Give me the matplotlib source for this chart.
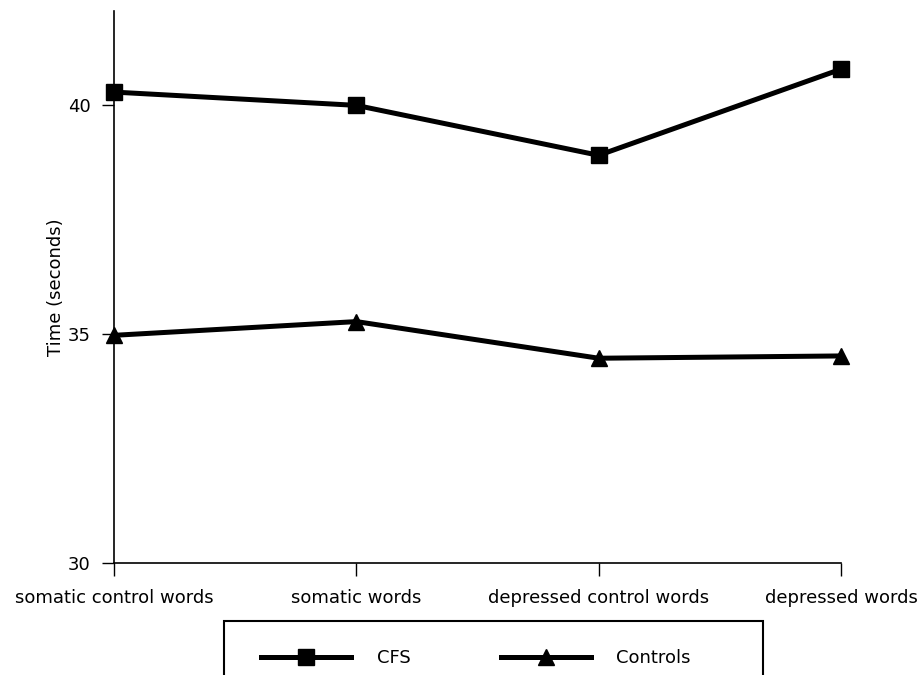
import matplotlib
matplotlib.use('Agg')
import matplotlib.pyplot as plt
from matplotlib.patches import Rectangle

plt.rcParams['font.family'] = ['DejaVu Sans']

categories = ['somatic control words', 'somatic words', 'depressed control words', 'depressed words']
cfs = [40.28, 39.99, 38.9, 40.78]
controls = [34.97, 35.27, 34.47, 34.52]
yticks = [30, 35, 40]

fig = plt.figure(figsize=(9.21, 6.75), dpi=100)
ax = fig.add_axes([114/921, 1 - 563/675, (841 - 114)/921, (563 - 11)/675])

x = range(len(categories))
ax.plot(x, cfs, color='black', lw=3.6, marker='s', markersize=11.5, label='CFS', clip_on=False)
ax.plot(x, controls, color='black', lw=3.6, marker='^', markersize=12, label='Controls', clip_on=False)

ax.set_xlim(0, len(categories) - 1)
ax.set_ylim(30, 42.05)
ax.set_yticks(yticks)
ax.set_xticks(list(x))
ax.set_xticklabels(categories, fontsize=13)
ax.tick_params(axis='y', length=9, width=1, pad=8, labelsize=13)
ax.tick_params(axis='x', length=9, width=1, pad=10)
ax.set_ylabel('Time (seconds)', fontsize=13, labelpad=2)

for s in ['top', 'right']:
    ax.spines[s].set_visible(False)
for s in ['left', 'bottom']:
    ax.spines[s].set_linewidth(1.2)

# legend box (cut off at the bottom of the figure)
fig.patches.append(Rectangle((224/921, -0.1), (763 - 224)/921, 0.1 + 1 - 621/675,
                             transform=fig.transFigure, fill=False,
                             edgecolor='black', lw=1.5))
fig.legend(loc='center', bbox_to_anchor=(476/921, 1 - 658/675), ncol=2,
           frameon=False, fontsize=13, handlelength=5.0, handletextpad=1.4,
           columnspacing=5.0)

plt.savefig('out.png', dpi=100)
